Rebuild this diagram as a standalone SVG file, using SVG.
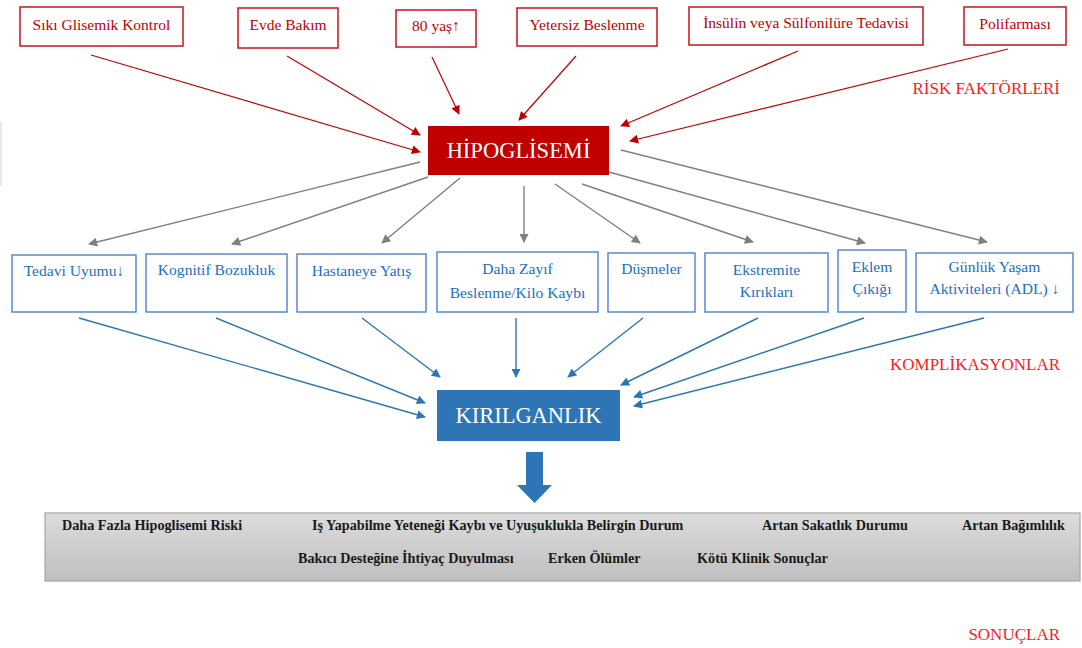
<svg xmlns="http://www.w3.org/2000/svg" width="1082" height="648" viewBox="0 0 1082 648">
<defs>
<style>
.rbox{fill:#fff;stroke:#c8242b;stroke-width:1.6}
.rtxt{font-family:"Liberation Serif","Times New Roman",serif;font-size:15.5px;fill:#c00000;text-anchor:middle}
.bbox{fill:#fff;stroke:#4f81cd;stroke-width:1.4}
.btxt{font-family:"Liberation Serif","Times New Roman",serif;font-size:15.6px;fill:#2170c4;text-anchor:middle}
.big{font-family:"Liberation Serif","Times New Roman",serif;font-size:22.5px;fill:#fff;text-anchor:middle}
.lbl{font-family:"Liberation Serif","Times New Roman",serif;font-size:17px;fill:#ff1a1a;text-anchor:end}
.otxt{font-family:"Liberation Serif","Times New Roman",serif;font-size:14.2px;font-weight:bold;fill:#1a1a1a}
.red{stroke:#c00000;stroke-width:1.2;fill:none;marker-end:url(#ar)}
.gray{stroke:#7f7f7f;stroke-width:1.4;fill:none;marker-end:url(#ag)}
.blue{stroke:#2e75b6;stroke-width:1.4;fill:none;marker-end:url(#ab)}
</style>
<marker id="ar" viewBox="0 0 10 10" refX="9" refY="5" markerWidth="11" markerHeight="9" markerUnits="userSpaceOnUse" orient="auto"><path d="M0,0 L10,5 L0,10 Z" fill="#c00000"/></marker>
<marker id="ag" viewBox="0 0 10 10" refX="9" refY="5" markerWidth="11" markerHeight="9" markerUnits="userSpaceOnUse" orient="auto"><path d="M0,0 L10,5 L0,10 Z" fill="#7f7f7f"/></marker>
<marker id="ab" viewBox="0 0 10 10" refX="9" refY="5" markerWidth="11" markerHeight="9" markerUnits="userSpaceOnUse" orient="auto"><path d="M0,0 L10,5 L0,10 Z" fill="#2e75b6"/></marker>
<linearGradient id="gb" x1="0" y1="0" x2="0" y2="1"><stop offset="0" stop-color="#dcdcdc"/><stop offset="1" stop-color="#bfbfbf"/></linearGradient>
</defs>
<rect width="1082" height="648" fill="#fff"/>
<line x1="1" y1="122" x2="1" y2="186" stroke="#d0d0d0" stroke-width="1"/>

<g id="connectors">
<line class="red" x1="91" y1="55" x2="420" y2="152"/>
<line class="red" x1="287" y1="56" x2="420" y2="135"/>
<line class="red" x1="432" y1="57" x2="459" y2="114"/>
<line class="red" x1="576" y1="56" x2="519" y2="120"/>
<line class="red" x1="798" y1="51" x2="621" y2="126"/>
<line class="red" x1="1008" y1="49" x2="630" y2="141"/>

<line class="gray" x1="420" y1="162" x2="89" y2="244"/>
<line class="gray" x1="428" y1="177" x2="232" y2="244"/>
<line class="gray" x1="460" y1="178" x2="382" y2="243"/>
<line class="gray" x1="524" y1="186" x2="524" y2="242"/>
<line class="gray" x1="555" y1="184" x2="640" y2="243"/>
<line class="gray" x1="582" y1="184" x2="753" y2="242"/>
<line class="gray" x1="609" y1="172" x2="865" y2="243"/>
<line class="gray" x1="621" y1="150" x2="987" y2="242"/>

<line class="blue" x1="79" y1="318" x2="425" y2="417"/>
<line class="blue" x1="216" y1="318" x2="425" y2="403"/>
<line class="blue" x1="362" y1="318" x2="440" y2="377"/>
<line class="blue" x1="516" y1="318" x2="516" y2="377"/>
<line class="blue" x1="643" y1="318" x2="568" y2="377"/>
<line class="blue" x1="758" y1="318" x2="621" y2="385"/>
<line class="blue" x1="864" y1="318" x2="634" y2="397"/>
<line class="blue" x1="984" y1="318" x2="634" y2="406"/>
</g>

<g id="risk-sikiglisemik"><rect class="rbox" x="20" y="7" width="163" height="39"/><text class="rtxt" x="101.5" y="30">Sıkı Glisemik Kontrol</text></g>
<g id="risk-evdebakim"><rect class="rbox" x="238" y="8" width="100" height="40"/><text class="rtxt" x="288" y="30">Evde Bakım</text></g>
<g id="risk-80yas"><rect class="rbox" x="396" y="10" width="80" height="37"/><text class="rtxt" x="436" y="31">80 yaş↑</text></g>
<g id="risk-yetersiz"><rect class="rbox" x="517" y="8" width="140" height="38"/><text class="rtxt" x="587" y="30">Yetersiz Beslenme</text></g>
<g id="risk-insulin"><rect class="rbox" x="689" y="7" width="234" height="38"/><text class="rtxt" x="806" y="28">İnsülin veya Sülfonilüre Tedavisi</text></g>
<g id="risk-polifarmasi"><rect class="rbox" x="964" y="7" width="102" height="38"/><text class="rtxt" x="1015" y="29">Polifarması</text></g>

<g id="hipoglisemi"><rect x="428" y="126" width="181" height="49" fill="#c00000"/><text class="big" x="518.5" y="158">HİPOGLİSEMİ</text></g>

<g id="comp-tedavi"><rect class="bbox" x="12" y="255" width="124" height="57"/><text class="btxt" x="74" y="276">Tedavi Uyumu↓</text></g>
<g id="comp-kognitif"><rect class="bbox" x="146" y="254" width="141" height="58"/><text class="btxt" x="216.5" y="275">Kognitif Bozukluk</text></g>
<g id="comp-hastane"><rect class="bbox" x="297" y="254" width="129" height="58"/><text class="btxt" x="361.5" y="276">Hastaneye Yatış</text></g>
<g id="comp-beslenme"><rect class="bbox" x="437" y="252" width="161" height="60"/><text class="btxt" x="517.5" y="274">Daha Zayıf</text><text class="btxt" x="517.5" y="298">Beslenme/Kilo Kaybı</text></g>
<g id="comp-dusmeler"><rect class="bbox" x="608" y="253" width="87" height="59"/><text class="btxt" x="651.5" y="274">Düşmeler</text></g>
<g id="comp-ekstremite"><rect class="bbox" x="705" y="253" width="123" height="59"/><text class="btxt" x="766.5" y="275">Ekstremite</text><text class="btxt" x="766.5" y="297">Kırıkları</text></g>
<g id="comp-eklem"><rect class="bbox" x="838" y="250" width="68" height="62"/><text class="btxt" x="872" y="272">Eklem</text><text class="btxt" x="872" y="294">Çıkığı</text></g>
<g id="comp-adl"><rect class="bbox" x="916" y="253" width="157" height="59"/><text class="btxt" x="994.5" y="272">Günlük Yaşam</text><text class="btxt" x="994.5" y="294">Aktiviteleri (ADL) ↓</text></g>

<g id="kirilganlik"><rect x="437" y="390" width="183" height="51" fill="#2e75b6"/><text class="big" x="528.5" y="423">KIRILGANLIK</text></g>

<g id="down-arrow"><path d="M526,452 L543,452 L543,485 L552,485 L534.5,503 L517,485 L526,485 Z" fill="#2e75b6"/></g>

<g id="sonuclar">
<rect x="45" y="513" width="1035" height="68" fill="url(#gb)" stroke="#a6a6a6" stroke-width="1.2"/>
<text class="otxt" x="62" y="530">Daha Fazla Hipoglisemi Riski</text>
<text class="otxt" x="312" y="530">Iş Yapabilme Yeteneği Kaybı ve Uyuşuklukla Belirgin Durum</text>
<text class="otxt" x="762" y="530">Artan Sakatlık Durumu</text>
<text class="otxt" x="962" y="530">Artan Bağımlılık</text>
<text class="otxt" x="298" y="563">Bakıcı Desteğine İhtiyaç Duyulması</text>
<text class="otxt" x="548" y="563">Erken Ölümler</text>
<text class="otxt" x="697" y="563">Kötü Klinik Sonuçlar</text>
</g>

<g id="labels">
<text class="lbl" x="1060" y="94">RİSK FAKTÖRLERİ</text>
<text class="lbl" x="1060" y="370">KOMPLİKASYONLAR</text>
<text class="lbl" x="1060" y="640">SONUÇLAR</text>
</g>
</svg>
